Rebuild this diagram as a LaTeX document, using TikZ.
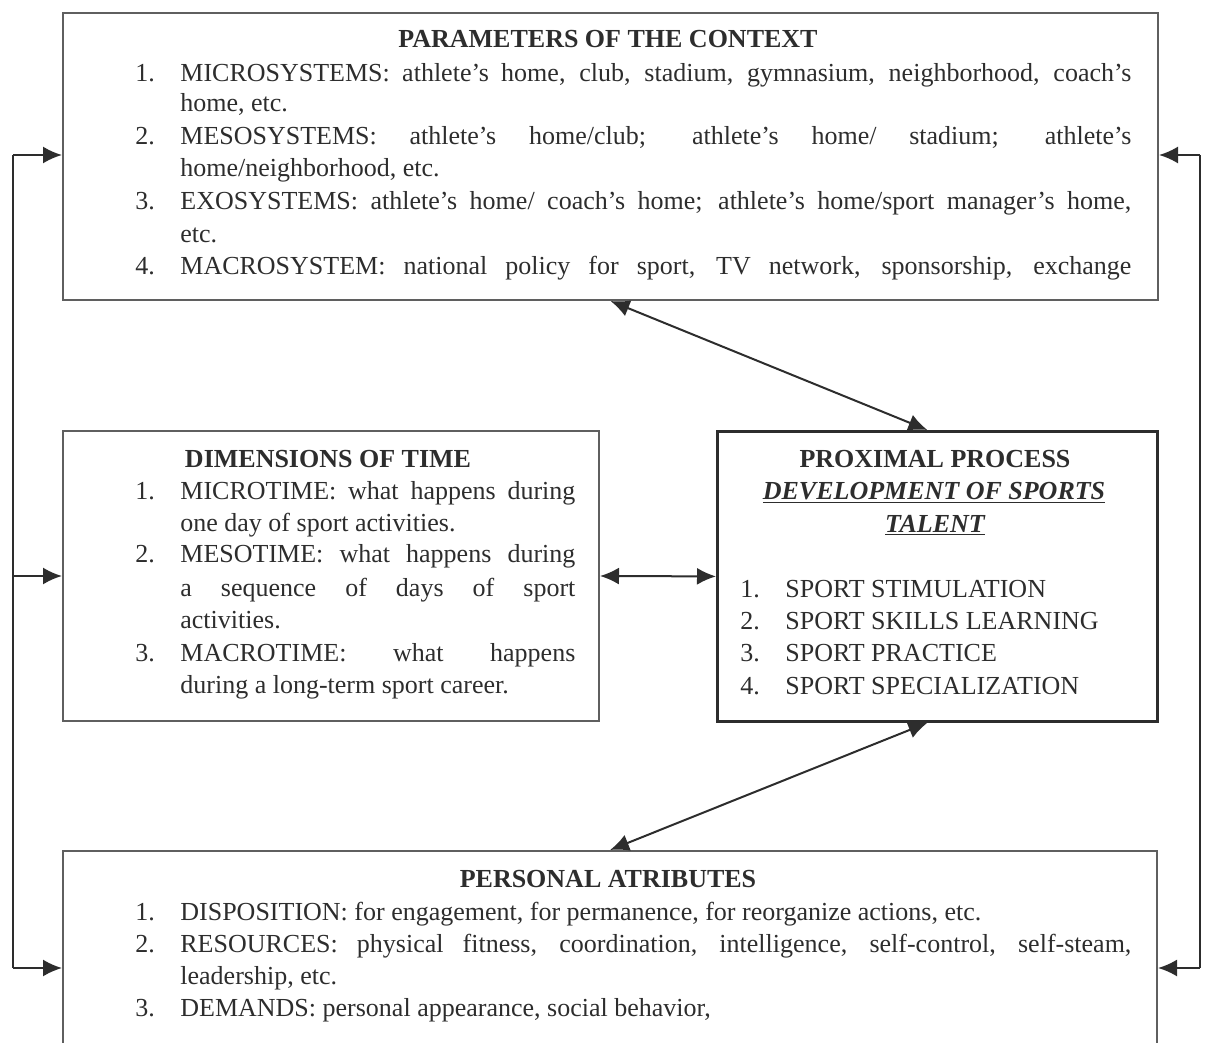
\documentclass[tikz,border=0pt]{standalone}
\usepackage{fontspec}
\setmainfont{Liberation Serif}
\usetikzlibrary{arrows.meta}
\definecolor{ink}{RGB}{45,45,45}
\definecolor{frame}{RGB}{95,95,95}
\begin{document}
\begin{tikzpicture}[x=0.5pt,y=-0.5pt,
  box/.style={draw=frame, line width=1pt, inner sep=0pt, anchor=north west},
  ln/.style={anchor=base west, inner sep=0pt, text=ink, font=\fontsize{13}{16}\selectfont},
  ttl/.style={anchor=base, inner sep=0pt, text=ink, font=\fontsize{13}{16}\selectfont\bfseries},
  wire/.style={draw=ink, line width=1pt},
  dbl/.style={wire, {Latex[length=9.5pt,width=8.5pt]}-{Latex[length=9.5pt,width=8.5pt]}},
  sgl/.style={wire, -{Latex[length=9.5pt,width=8.5pt]}}]
\useasboundingbox (0,0) rectangle (1210,1043);
\clip (0,0) rectangle (1210,1043);

% boxes
\node[box, minimum width=547.5pt, minimum height=143.5pt] (ctx) at (62,12) {};
\node[box, minimum width=268pt, minimum height=145pt] (time) at (62,430) {};
\node[box, draw=ink, line width=1.4pt, minimum width=220pt, minimum height=145pt] (prox) at (716,430) {};
\node[box, minimum width=547pt, minimum height=115pt] (pers) at (62,850) {};

% parameters of the context
\node[ttl] (ctxT) at (608,48) {PARAMETERS OF THE CONTEXT};
\node[ln] (c1n) at (135,82) {1.};
\node[ln] (c1) at (180,82) {\makebox[475.5pt][s]{MICROSYSTEMS: athlete's home, club, stadium, gymnasium, neighborhood, coach's}};
\node[ln] (c1b) at (180,112) {home, etc.};
\node[ln] (c2n) at (135,145) {2.};
\node[ln] (c2) at (180,145) {\makebox[475.5pt][s]{MESOSYSTEMS: athlete's home/club; athlete's home/ stadium; athlete's}};
\node[ln] (c2b) at (180,177) {home/neighborhood, etc.};
\node[ln] (c3n) at (135,210) {3.};
\node[ln] (c3) at (180,210) {\makebox[475.5pt][s]{EXOSYSTEMS: athlete's home/ coach's home; athlete's home/sport manager's home,}};
\node[ln] (c3b) at (180,243) {etc.};
\node[ln] (c4n) at (135,275) {4.};
\node[ln] (c4) at (180,275) {\makebox[475.5pt][s]{MACROSYSTEM: national policy for sport, TV network, sponsorship, exchange}};

% dimensions of time
\node[ttl] (timeT) at (328,467) {DIMENSIONS OF TIME};
\node[ln] (t1n) at (135,499) {1.};
\node[ln] (t1) at (180,499) {\makebox[197.5pt][s]{MICROTIME: what happens during}};
\node[ln] (t1b) at (180,531) {one day of sport activities.};
\node[ln] (t2n) at (135,562) {2.};
\node[ln] (t2) at (180,562) {\makebox[197.5pt][s]{MESOTIME: what happens during}};
\node[ln] (t2b) at (180,596) {\makebox[197.5pt][s]{a sequence of days of sport}};
\node[ln] (t2c) at (180,628) {activities.};
\node[ln] (t3n) at (135,661) {3.};
\node[ln] (t3) at (180,661) {\makebox[197.5pt][s]{MACROTIME: what happens}};
\node[ln] (t3b) at (180,693) {during a long-term sport career.};

% proximal process
\node[ttl] (proxT) at (935,467) {PROXIMAL PROCESS};
\node[ttl, font=\fontsize{13}{16}\selectfont\bfseries\itshape] (proxS) at (934,499) {\underline{DEVELOPMENT OF SPORTS}};
\node[ttl, font=\fontsize{13}{16}\selectfont\bfseries\itshape] (proxS2) at (935,532) {\underline{TALENT}};
\node[ln] (p1n) at (740,597) {1.};
\node[ln] (p1) at (785,597) {SPORT STIMULATION};
\node[ln] (p2n) at (740,629) {2.};
\node[ln] (p2) at (785,629) {SPORT SKILLS LEARNING};
\node[ln] (p3n) at (740,661) {3.};
\node[ln] (p3) at (785,661) {SPORT PRACTICE};
\node[ln] (p4n) at (740,694) {4.};
\node[ln] (p4) at (785,694) {SPORT SPECIALIZATION};

% personal attributes
\node[ttl] (persT) at (608,887) {PERSONAL ATRIBUTES};
\node[ln] (a1n) at (135,920) {1.};
\node[ln] (a1) at (180,920) {DISPOSITION: for engagement, for permanence, for reorganize actions, etc.};
\node[ln] (a2n) at (135,952) {2.};
\node[ln] (a2) at (180,952) {\makebox[475.5pt][s]{RESOURCES: physical fitness, coordination, intelligence, self-control, self-steam,}};
\node[ln] (a2b) at (180,984) {leadership, etc.};
\node[ln] (a3n) at (135,1016) {3.};
\node[ln] (a3) at (180,1016) {DEMANDS: personal appearance, social behavior,};

% feedback rails
\coordinate (la) at (13,155);
\coordinate (lb) at (13,968);
\coordinate (ra) at (1200,155);
\coordinate (rb) at (1200,968);
\draw[wire] (la) -- (lb);
\draw[wire] (ra) -- (rb);
\draw[sgl] (la) -- (la -| ctx.west);
\draw[sgl] (la |- time.west) -- (time.west);
\draw[sgl] (lb) -- (lb -| pers.west);
\draw[sgl] (ra) -- (ra -| ctx.east);
\draw[sgl] (rb) -- (rb -| pers.east);

% interactions with the proximal process
\draw[dbl] (ctx.south) -- ([xshift=-5pt]prox.north);
\draw[dbl] (time.east) -- (prox.west);
\draw[dbl] ([xshift=-5pt]prox.south) -- (pers.north);
\end{tikzpicture}
\end{document}
